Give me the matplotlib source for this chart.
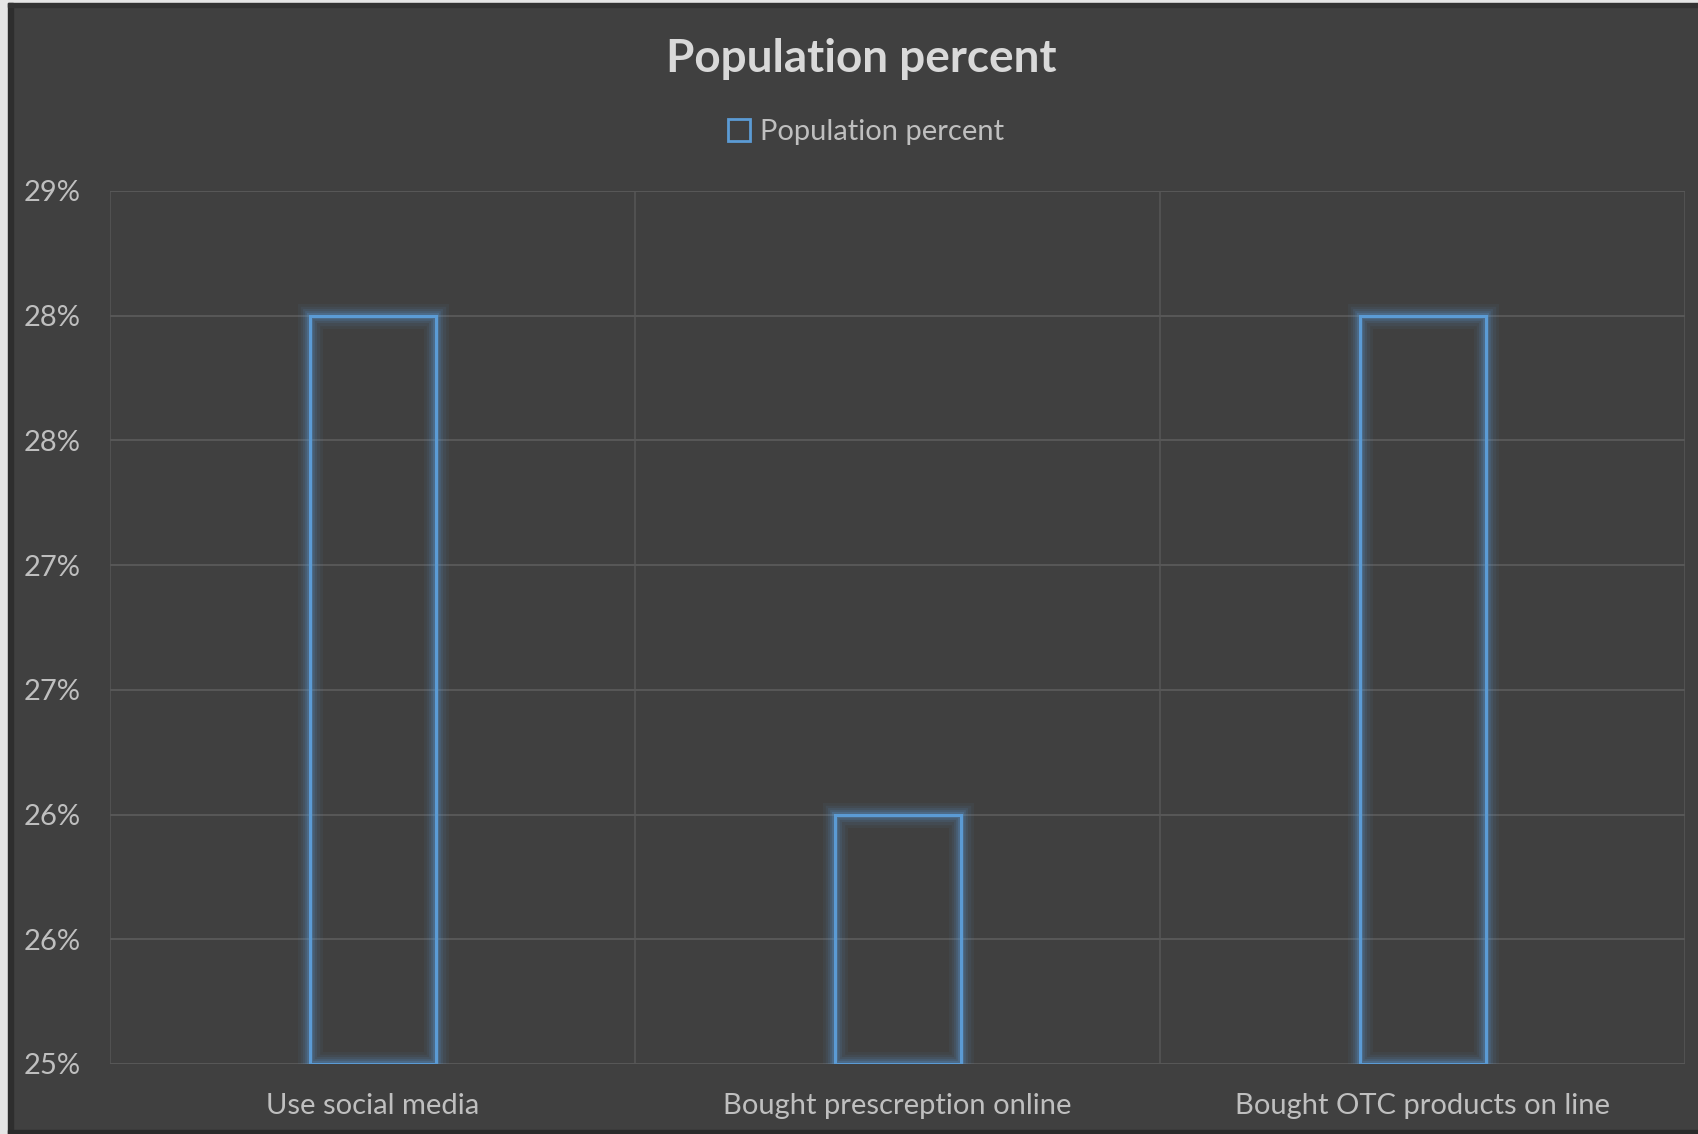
import numpy as np
import matplotlib
matplotlib.use("Agg")
import matplotlib.pyplot as plt
from matplotlib.patches import Rectangle, Patch
from matplotlib.ticker import FixedLocator, FuncFormatter

# Chart data
categories = ["Use social media", "Bought prescreption online", "Bought OTC products on line"]
values = [0.28, 0.26, 0.28]
series_name = "Population percent"
y_min, y_max, y_step = 0.25, 0.285, 0.005

BG = "#404040"
EDGE = "#5b9bd5"
GRID = "#575757"
TEXT = "#bfbfbf"
TITLE = "#d9d9d9"
FONT = ["Lato", "DejaVu Sans"]

W, H = 1698, 1134
fig = plt.figure(figsize=(W / 100, H / 100), dpi=100)
fig.patch.set_facecolor(BG)

# Outer frame: pale margin on the left/top, dark bevel around the chart
fig.patches.append(Rectangle((0, 0), 8 / W, 1, transform=fig.transFigure, color="#e6e6e6", zorder=0))
fig.patches.append(Rectangle((0, 1 - 3 / H), 1, 3 / H, transform=fig.transFigure, color="#e6e6e6", zorder=0))
fig.patches.append(Rectangle((8 / W, 0), 5 / W, 1 - 3 / H, transform=fig.transFigure, color="#2e2e2e", zorder=0))
fig.patches.append(Rectangle((8 / W, 1 - 7 / H), 1, 4 / H, transform=fig.transFigure, color="#333333", zorder=0))
fig.patches.append(Rectangle((8 / W, 0), 1, 4 / H, transform=fig.transFigure, color="#2a2a2a", zorder=0))

left, right, top, bottom = 110, 1685, 191, 1064
ax = fig.add_axes([left / W, (H - bottom) / H, (right - left) / W, (bottom - top) / H])
ax.set_facecolor(BG)

x = np.arange(len(categories))
ax.set_xlim(-0.5, len(categories) - 0.5)
ax.set_ylim(y_min, y_max)

# Gridlines
yticks = np.arange(y_min, y_max + y_step / 2, y_step)
for yv in yticks:
    ax.axhline(yv, color=GRID, lw=1.5, zorder=1)
for xv in np.arange(-0.5, len(categories), 1.0):
    ax.axvline(xv, color=GRID, lw=1.3, zorder=1, alpha=0.85)

for s in ax.spines.values():
    s.set_visible(False)

# Bars: outline only, with a soft blue glow
bar_w = 0.24
heights = [v - y_min for v in values]
for lw, a in [(18, 0.06), (14, 0.08), (10, 0.11), (7, 0.15), (4.5, 0.22)]:
    ax.bar(x, heights, bottom=y_min, width=bar_w, facecolor="none",
           edgecolor=EDGE, linewidth=lw, alpha=a, zorder=2)
ax.bar(x, heights, bottom=y_min, width=bar_w, facecolor="none",
       edgecolor=EDGE, linewidth=2.2, zorder=3)

# Axes ticks and labels
ax.yaxis.set_major_locator(FixedLocator(yticks))
ax.yaxis.set_major_formatter(FuncFormatter(lambda v, p: f"{int(np.floor(v * 100 + 0.5 + 1e-9))}%"))
ax.set_xticks(x)
ax.set_xticklabels(categories)
ax.tick_params(axis="both", length=0, colors=TEXT, labelsize=21)
ax.tick_params(axis="y", pad=21)
ax.tick_params(axis="x", pad=21)
for lab in ax.get_xticklabels() + ax.get_yticklabels():
    lab.set_family(FONT)
    lab.set_color(TEXT)

# Title and legend
fig.text(861 / W, 1 - 59 / H, "Population percent", ha="center", va="center",
         fontsize=33, fontweight="bold", color=TITLE, family=FONT)
handle = Patch(facecolor="none", edgecolor=EDGE, linewidth=2, label=series_name)
leg = fig.legend(handles=[handle], loc="center", bbox_to_anchor=(866 / W, 1 - 132 / H),
                 frameon=False, handlelength=0.75, handleheight=0.75,
                 handletextpad=0.35, prop={"family": FONT, "size": 21})
for t in leg.get_texts():
    t.set_color(TEXT)

fig.savefig("out.png", dpi=100, facecolor=BG)
